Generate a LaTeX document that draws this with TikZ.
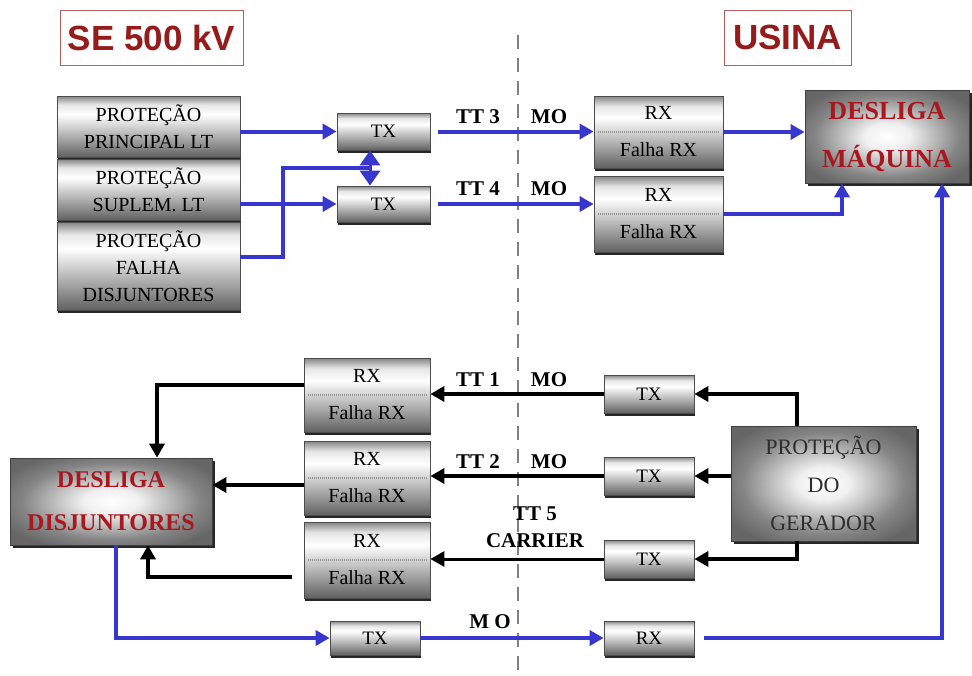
\documentclass[tikz,border=0pt]{standalone}
\usepackage{fontspec}
\setmainfont{Liberation Serif}
\newfontfamily\titlefont{Liberation Sans}
\usetikzlibrary{arrows.meta,shadows,calc}
\definecolor{bl}{RGB}{55,55,205}
\definecolor{dred}{RGB}{150,28,28}
\definecolor{tred}{RGB}{168,24,30}
\pgfdeclareverticalshading{metal}{100bp}{color(0bp)=(black!62); color(25bp)=(black!62); color(40bp)=(black!35); color(60bp)=(white); color(68bp)=(black!10); color(75bp)=(black!48); color(100bp)=(black!48)}
\pgfdeclareradialshading{glow}{\pgfpoint{0bp}{0bp}}{color(0bp)=(white); color(7bp)=(black!6); color(22bp)=(black!48); color(30bp)=(black!60); color(50bp)=(black!60)}
\tikzset{
  metalbox/.style={draw=black!70, line width=0.8pt, shading=metal,
    drop shadow={shadow xshift=1pt, shadow yshift=-2.5pt, fill=black!85, opacity=1},
    inner sep=0pt, align=center, text=black},
  stackbox/.style={metalbox, font=\fontsize{20}{27}\selectfont},
  txbox/.style={metalbox, font=\fontsize{19}{20}\selectfont},
  rxbox/.style={metalbox, font=\fontsize{20}{37}\selectfont},
  glowbox/.style={draw=black!75, line width=0.8pt, shading=glow,
    drop shadow={shadow xshift=3pt, shadow yshift=-3pt, fill=black!85, opacity=1},
    inner sep=0pt, align=center},
  titlebox/.style={draw=dred!70, line width=1pt, fill=white, inner sep=0pt,
    text=dred, font=\titlefont\bfseries\fontsize{35}{40}\selectfont},
  lbl/.style={font=\bfseries\fontsize{21}{22}\selectfont, text=black, inner sep=0pt},
  divider/.style={draw=black!40, line width=1.3pt, dash pattern=on 1pt off 1pt},
  blline/.style={draw=bl, line width=4pt},
  blarrow/.style={blline, -{Triangle[length=14pt,width=15pt]}},
  bkline/.style={draw=black, line width=4pt},
  bkarrow/.style={bkline, -{Triangle[length=14pt,width=15pt]}},
}
\begin{document}
\begin{tikzpicture}[x=1pt,y=-1pt]
\useasboundingbox (0,0) rectangle (972,675);
\fill[white] (0,0) rectangle (972,675);

% dashed border line
\coordinate (dtop) at (518,35);
\coordinate (dbot) at (518,675);
\draw[black!50, line width=2.5pt, dash pattern=on 14pt off 9pt] (dtop) -- (dbot);

% titles
\node[titlebox, minimum width=183pt, minimum height=55pt] (se) at (151.5,37.5) {SE 500 kV};
\node[titlebox, minimum width=127pt, minimum height=55pt] (us) at (787.5,37.5) {USINA};

% left stack
\node[stackbox, minimum width=183pt, minimum height=61pt] (p1) at (148.5,126.5) {PROTEÇÃO\\PRINCIPAL LT};
\node[stackbox, minimum width=183pt, minimum height=61pt] (p2) at (148.5,189.5) {PROTEÇÃO\\SUPLEM.\ LT};
\node[stackbox, minimum width=183pt, minimum height=88pt] (p3) at (148.5,266) {PROTEÇÃO\\FALHA\\DISJUNTORES};

% top TX
\node[txbox, minimum width=93pt, minimum height=37pt] (tx1) at (383.5,131.5) {TX};
\node[txbox, minimum width=93pt, minimum height=36pt] (tx2) at (383.5,204) {TX};

% top RX
\node[rxbox, minimum width=129pt, minimum height=72pt] (rx1) at (658.5,132) {RX\\Falha RX};
\draw[divider] ([xshift=4pt]rx1.west) -- ([xshift=-4pt]rx1.east);
\node[rxbox, minimum width=129pt, minimum height=76pt] (rx2) at (658.5,214) {RX\\Falha RX};
\draw[divider] ([xshift=4pt]rx2.west) -- ([xshift=-4pt]rx2.east);

% desliga maquina
\node[glowbox, minimum width=164pt, minimum height=93pt, text=tred,
  font=\bfseries\fontsize{26}{48}\selectfont] (dm) at (887,136.5) {DESLIGA\\MÁQUINA};

% bottom RX
\node[rxbox, minimum width=126pt, minimum height=74pt] (rxa) at (367,395) {RX\\Falha RX};
\draw[divider] ([xshift=4pt]rxa.west) -- ([xshift=-4pt]rxa.east);
\node[rxbox, minimum width=126pt, minimum height=74pt] (rxb) at (367,478) {RX\\Falha RX};
\draw[divider] ([xshift=4pt]rxb.west) -- ([xshift=-4pt]rxb.east);
\node[rxbox, minimum width=126pt, minimum height=76pt] (rxc) at (367,560) {RX\\Falha RX};
\draw[divider] ([xshift=4pt]rxc.west) -- ([xshift=-4pt]rxc.east);

% bottom TX
\node[txbox, minimum width=90pt, minimum height=38pt] (txa) at (649,394) {TX};
\node[txbox, minimum width=90pt, minimum height=38pt] (txb) at (649,476) {TX};
\node[txbox, minimum width=90pt, minimum height=38pt] (txc) at (649,559) {TX};

% protecao do gerador
\node[glowbox, minimum width=185pt, minimum height=115pt, text=black!82,
  font=\fontsize{22}{38}\selectfont] (pg) at (823.5,483.5) {PROTEÇÃO\\DO\\GERADOR};

% desliga disjuntores
\node[glowbox, minimum width=202pt, minimum height=87pt, text=tred,
  font=\bfseries\fontsize{24}{43}\selectfont] (dd) at (111,501.5) {DESLIGA\\DISJUNTORES};

% last TX / RX
\node[txbox, minimum width=90pt, minimum height=34pt] (txd) at (375,638) {TX};
\node[txbox, minimum width=90pt, minimum height=34pt] (rxd) at (649,638) {RX};

% labels
\node[lbl] (l3a) at (478,117) {TT 3};
\node[lbl] (l3b) at (549,117) {MO};
\node[lbl] (l4a) at (478,189) {TT 4};
\node[lbl] (l4b) at (549,189) {MO};
\node[lbl] (l1a) at (478,380) {TT 1};
\node[lbl] (l1b) at (549,380) {MO};
\node[lbl] (l2a) at (478,462) {TT 2};
\node[lbl] (l2b) at (549,462) {MO};
\node[lbl] (l5a) at (535,514) {TT 5};
\node[lbl] (l5b) at (535,541) {CARRIER};
\node[lbl] (lmo) at (490,622) {M O};

% blue connectors top
\draw[blarrow] (p1.east |- tx1.west) -- (tx1.west);
\draw[blarrow] (p2.east |- tx2.west) -- (tx2.west);
\coordinate (j) at (370,168);
\draw[blline] ([yshift=9pt]p3.east) -- ++(43,0) |- (j);
\draw[bl, line width=3pt, {Triangle[length=15pt,width=20pt]}-{Triangle[length=15pt,width=20pt]}] (tx1.south -| j) -- (tx2.north -| j);
\draw[blarrow] ([xshift=8pt]tx1.east) -- (tx1.east -| rx1.west);
\draw[blarrow] ([xshift=8pt]tx2.east) -- (tx2.east -| rx2.west);
\draw[blarrow] (rx1.east) -- (rx1.east -| dm.west);
\draw[blarrow] (rx2.east) -| ([xshift=-45pt]dm.south);

% black connectors
\draw[bkarrow] ([xshift=-26.5pt]pg.north) |- (txa.east);
\draw[bkarrow] (pg.west |- txb.east) -- (txb.east);
\draw[bkarrow] ([xshift=-26.5pt]pg.south) |- (txc.east);
\draw[bkarrow] (txa.west) -- (txa.west -| rxa.east);
\draw[bkarrow] (txb.west) -- (txb.west -| rxb.east);
\draw[bkline, line width=3pt, -{Triangle[length=14pt,width=15pt]}] (txc.west) -- (txc.west -| rxc.east);
\draw[bkarrow] ([yshift=10pt]rxa.west) -| ([xshift=46pt]dd.north);
\draw[bkarrow] ([yshift=-7pt]rxb.west) -- ([yshift=-7pt]rxb.west -| dd.east);
\draw[bkarrow] ([xshift=-12pt,yshift=-17pt]rxc.west) -| ([xshift=37pt]dd.south);

% blue connectors bottom
\draw[blarrow] ([xshift=5pt]dd.south) |- (txd.west);
\draw[blarrow] (txd.east) -- (rxd.west);
\draw[blarrow] ([xshift=10pt]rxd.east) -| ([xshift=55pt]dm.south);
\end{tikzpicture}
\end{document}
